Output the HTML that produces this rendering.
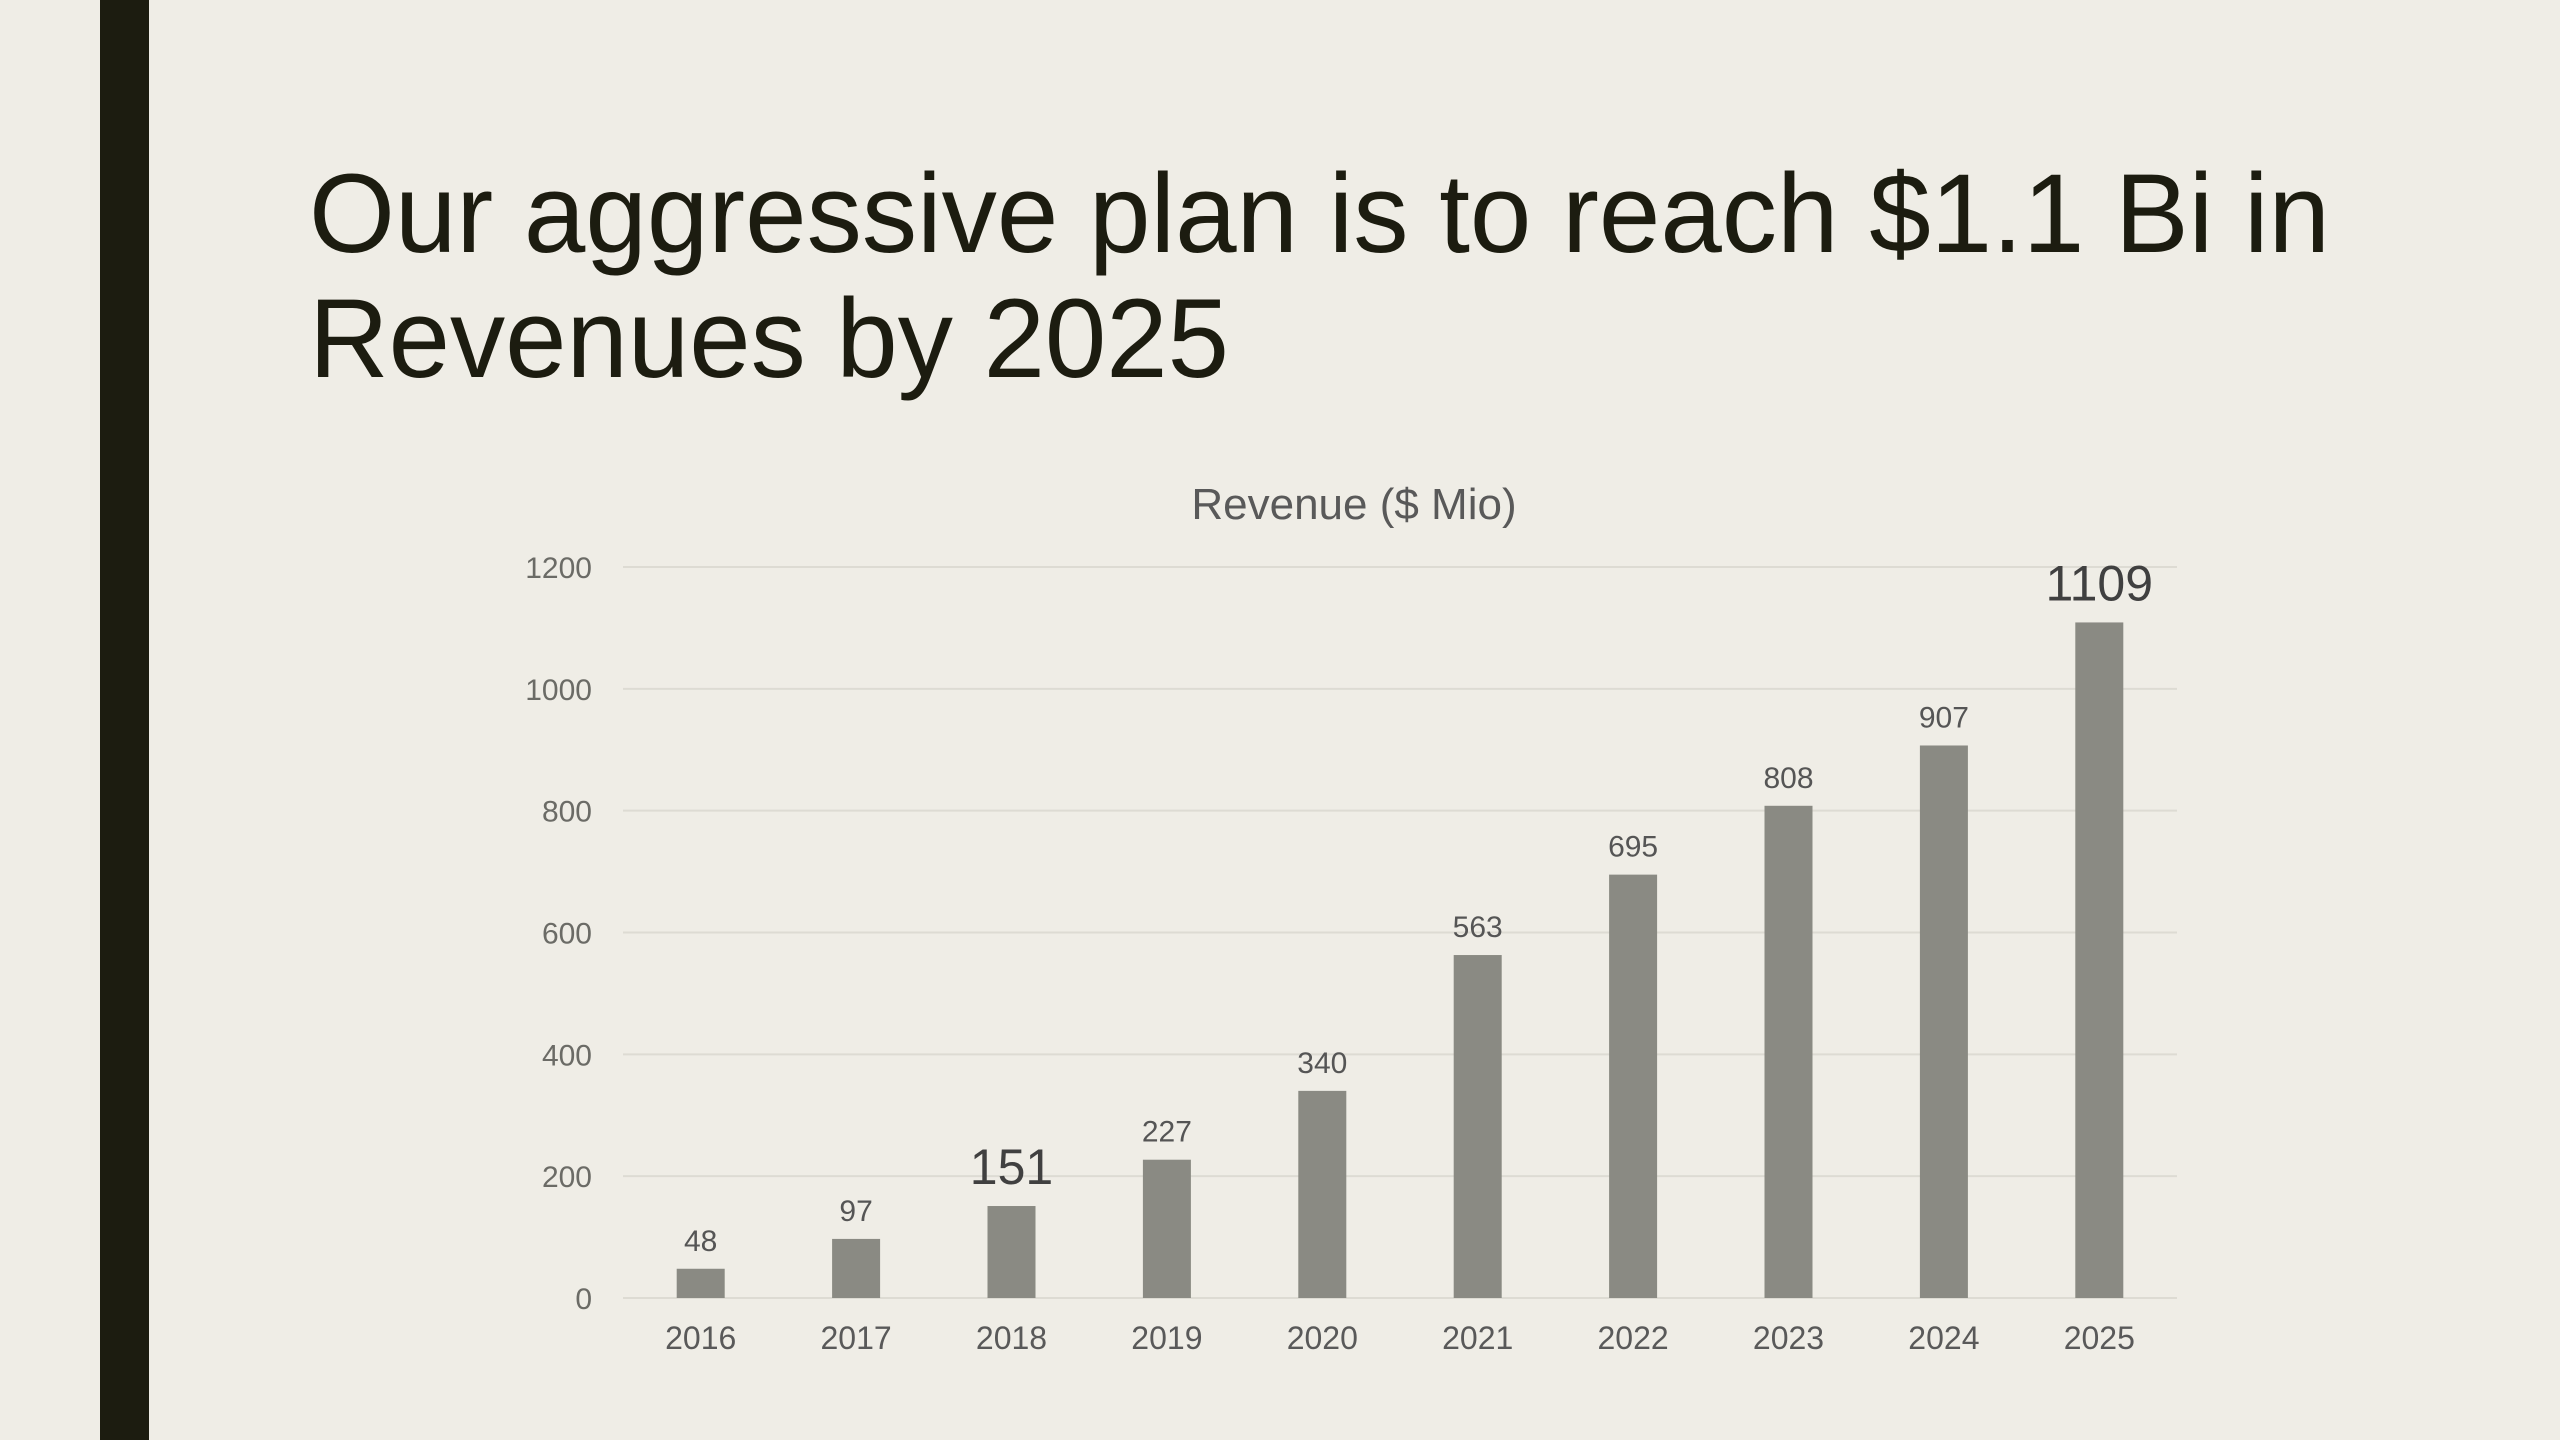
<!DOCTYPE html>
<html><head><meta charset="utf-8"><style>
html,body{margin:0;padding:0;background:#efede6;}
svg{display:block;}
</style></head><body>
<svg id="slide" width="2560" height="1440" viewBox="0 0 2560 1440" xmlns="http://www.w3.org/2000/svg" font-family="'Liberation Sans', sans-serif">
<rect x="0" y="0" width="2560" height="1440" fill="#efede6"/>
<rect x="100" y="0" width="49" height="1440" fill="#1c1c10"/>
<g fill="#1c1c10" font-size="112">
<text x="309" y="252" textLength="2021" lengthAdjust="spacingAndGlyphs">Our aggressive plan is to reach $1.1 Bi in</text>
<text x="309" y="377" textLength="920" lengthAdjust="spacingAndGlyphs">Revenues by 2025</text>
</g>
<text x="1354" y="519" text-anchor="middle" font-size="44" fill="#595959">Revenue ($ Mio)</text>
<g id="grid"></g>
<g id="yaxis"></g>
<g id="bars"></g>
<g id="labels"></g>
<g id="xaxis"></g>
</svg>
<script>
const categories = ["2016","2017","2018","2019","2020","2021","2022","2023","2024","2025"];
const revenue = [48,97,151,227,340,563,695,808,907,1109];
const yTicks = [0,200,400,600,800,1000,1200];
const highlighted = ["2018","2025"];

const NS = "http://www.w3.org/2000/svg";
const plotL = 623, plotR = 2177, plotT = 567, plotB = 1298, yMax = 1200;
const band = (plotR - plotL) / categories.length;
function xCenter(i){ return plotL + band * (i + 0.5); }
function yScale(v){ return plotB - (v / yMax) * (plotB - plotT); }
function mk(tag, attrs, parent){ const e = document.createElementNS(NS, tag); for (const k in attrs) e.setAttribute(k, attrs[k]); parent.appendChild(e); return e; }

const grid = document.getElementById('grid');
const yaxis = document.getElementById('yaxis');
yTicks.forEach(t => {
  const l = mk('line', {x1: plotL, x2: plotR, y1: yScale(t), y2: yScale(t), stroke: '#dddbd3', 'stroke-width': 2}, grid);
  
  
  const tx = mk('text', {x: 592, y: yScale(t) + 11, 'text-anchor': 'end', 'font-size': 30, fill: '#6b6b66'}, yaxis);
  tx.textContent = t;
  
  
});

const bars = document.getElementById('bars');
const labels = document.getElementById('labels');
const xaxis = document.getElementById('xaxis');
const bw = 48;
categories.forEach((c, i) => {
  const v = revenue[i];
  const r = mk('rect', {x: xCenter(i) - bw/2, y: yScale(v), width: bw, height: plotB - yScale(v), fill: '#8a8a83'}, bars);
  
  
  const big = highlighted.includes(c);
  const lb = mk('text', {x: xCenter(i), y: yScale(v) - (big ? 22 : 18), 'text-anchor': 'middle', 'font-size': big ? 50 : 30, fill: big ? '#404040' : '#555555'}, labels);
  lb.textContent = v;
  
  
  const xl = mk('text', {x: xCenter(i), y: 1349, 'text-anchor': 'middle', 'font-size': 32, fill: '#595959'}, xaxis);
  xl.textContent = c;
  
  
});
</script>
</body></html>
